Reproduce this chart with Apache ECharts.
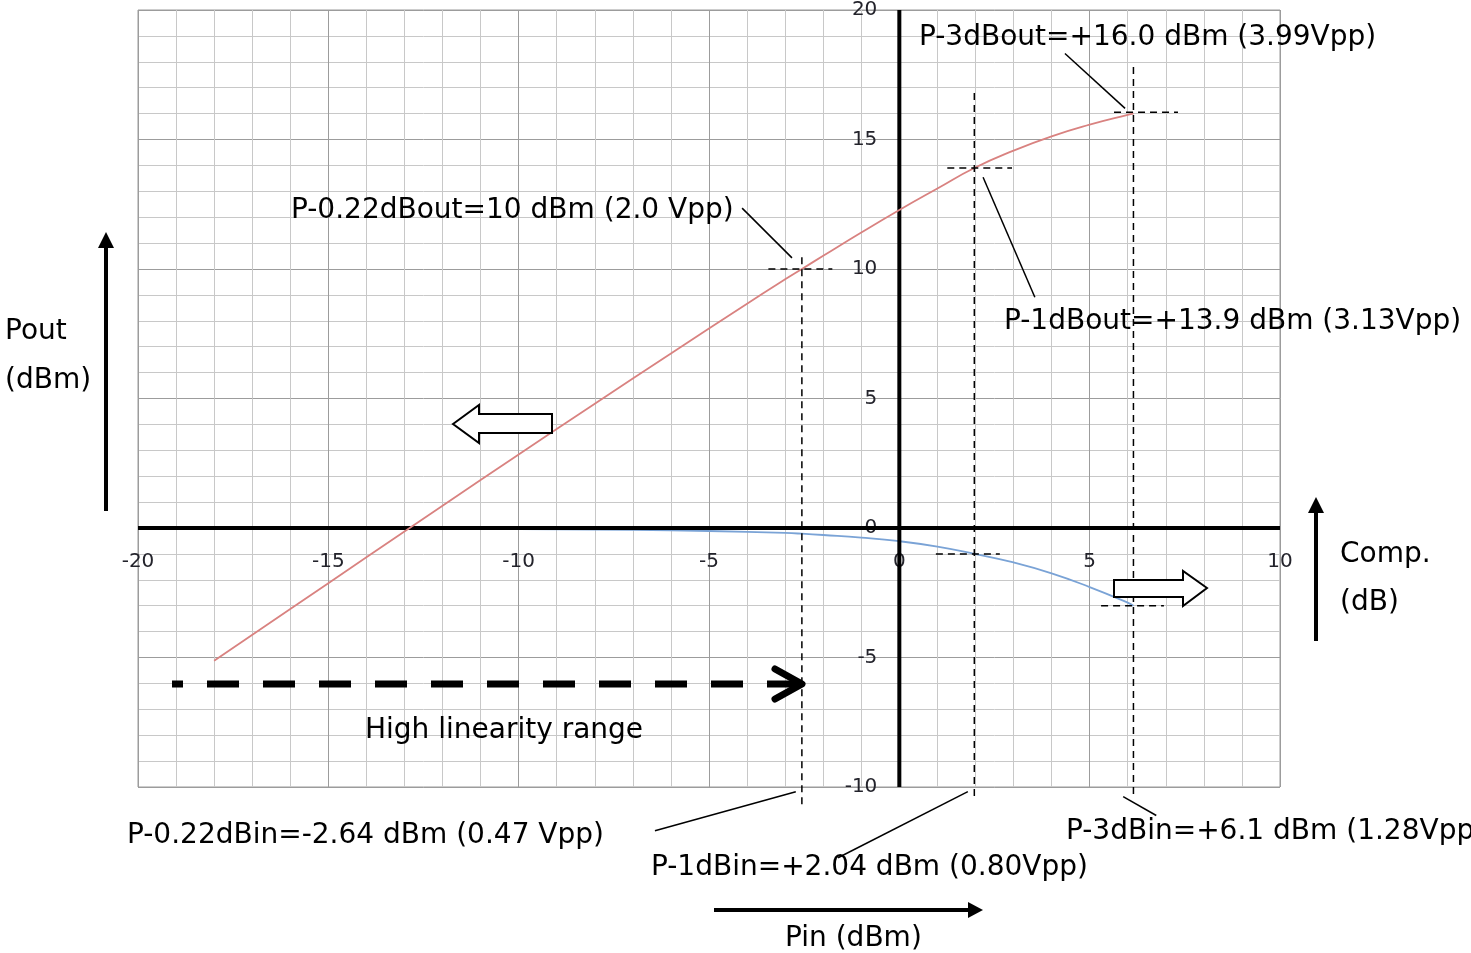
<!DOCTYPE html>
<html>
<head>
<meta charset="utf-8">
<script src="https://cdn.jsdelivr.net/npm/echarts@6/dist/echarts.min.js"></script>
<style>
html, body { margin: 0; padding: 0; background: #ffffff; }
#chart { width: 1471px; height: 953px; }
</style>
</head>
<body>
<div id="chart"></div>
<script>
// ---------- data ----------
const pinDbm  = [-18, -16, -14, -12, -10, -8, -6, -4, -3, -2.56, -2, -1, 0, 1, 1.97, 3, 4, 5, 6, 6.15];
const poutDbm = [-5.13, -3.13, -1.13, 0.86, 2.84, 4.80, 6.74, 8.66, 9.60, 10.0, 10.51, 11.41, 12.28, 13.11, 13.9, 14.57, 15.12, 15.57, 15.95, 16.0];
const compDb  = [-0.01, -0.01, -0.02, -0.03, -0.04, -0.06, -0.09, -0.15, -0.19, -0.22, -0.27, -0.37, -0.51, -0.72, -1.0, -1.33, -1.75, -2.28, -2.88, -3.0];

const xTickValues = [-20, -15, -10, -5, 0, 5, 10];
const yTickValues = [-10, -5, 0, 5, 10, 15, 20];

// key compression points as drawn: P-0.22dB, P-1dB, P-3dB
const keyPin  = [-2.56, 1.97, 6.15];
const keyPout = [10.0, 13.9, 16.05];
const keyComp = [-0.22, -1.0, -3.0];

const outLabels = ['P-0.22dBout=10 dBm (2.0 Vpp)', 'P-1dBout=+13.9 dBm (3.13Vpp)', 'P-3dBout=+16.0 dBm (3.99Vpp)'];
const inLabels  = ['P-0.22dBin=-2.64 dBm (0.47 Vpp)', 'P-1dBin=+2.04 dBm (0.80Vpp)', 'P-3dBin=+6.1 dBm (1.28Vpp)'];
const axisTexts = ['Pout', '(dBm)', 'Comp.', '(dB)', 'Pin (dBm)', 'High linearity range'];

// ---------- annotation geometry (data units) ----------
const vDashTop    = [10.45, 16.8, 17.8];
const vDashBottom = [-10.8, -10.5, -10.4];
const hOutLeft  = [0.88, 0.71, 0.51];
const hOutRight = [0.80, 0.99, 1.17];
const hCompLeft  = [null, 1.01, 0.85];
const hCompRight = [null, 0.67, 0.80];
const leaders = [
  [[-4.13, 12.35], [-2.82, 10.43]],
  [[2.20, 13.54], [3.56, 8.91]],
  [[4.35, 18.32], [5.93, 16.2]],
  [[-6.42, -11.69], [-2.72, -10.18]],
  [[-1.61, -12.73], [1.80, -10.18]],
  [[5.88, -10.37], [6.75, -11.1]]
];

const FONT = '"DejaVu Sans", Verdana, sans-serif';

// grid layout
const GRID = { left: 138, top: 9, width: 1142, height: 778 };
const xRange = xTickValues[xTickValues.length - 1] - xTickValues[0];
const yRange = yTickValues[yTickValues.length - 1] - yTickValues[0];
// shift the axes (and their labels) so they cross at the origin
const xAxisOffset = -(GRID.height * (0 - yTickValues[0]) / yRange);
const yAxisOffset = -(GRID.width * (0 - xTickValues[0]) / xRange);

function lineEl(api, a, b, style) {
  const p1 = api.coord(a), p2 = api.coord(b);
  return { type: 'line', shape: { x1: p1[0], y1: p1[1], x2: p2[0], y2: p2[1] }, style: style };
}

function renderAnnotations(params, api) {
  const dashed = { stroke: '#000', lineWidth: 1.5, lineDash: [7, 5], fill: null };
  const solid = { stroke: '#000', lineWidth: 1.5, fill: null };
  const children = [];
  for (let i = 0; i < keyPin.length; i++) {
    children.push(lineEl(api, [keyPin[i], vDashTop[i]], [keyPin[i], vDashBottom[i]], dashed));
    children.push(lineEl(api, [keyPin[i] - hOutLeft[i], keyPout[i]], [keyPin[i] + hOutRight[i], keyPout[i]], dashed));
    if (hCompLeft[i] !== null) {
      children.push(lineEl(api, [keyPin[i] - hCompLeft[i], keyComp[i]], [keyPin[i] + hCompRight[i], keyComp[i]], dashed));
    }
  }
  leaders.forEach(function (l) { children.push(lineEl(api, l[0], l[1], solid)); });
  return { type: 'group', children: children };
}

function renderAxes(params, api) {
  const st = { stroke: '#000', lineWidth: 4, fill: null };
  return { type: 'group', children: [
    lineEl(api, [xTickValues[0], 0], [xTickValues[xTickValues.length - 1], 0], st),
    lineEl(api, [0, yTickValues[0]], [0, yTickValues[yTickValues.length - 1]], st)
  ]};
}

function txt(x, y, s) {
  return { type: 'text', x: x, y: y, z: 100,
    style: { text: s, font: '28px ' + FONT, fill: '#000', textAlign: 'left', textVerticalAlign: 'middle', align: 'left', verticalAlign: 'middle' } };
}

const chart = echarts.init(document.getElementById('chart'), null, { renderer: 'canvas' });

const axisLabelStyle = { fontSize: 20, fontFamily: FONT, color: '#23232b' };

const option = {
  animation: false,
  backgroundColor: '#ffffff',
  grid: { left: GRID.left, top: GRID.top, width: GRID.width, height: GRID.height, containLabel: false, show: true, borderColor: '#9a9a9a', borderWidth: 1, backgroundColor: 'transparent' },
  xAxis: {
    type: 'value', position: 'bottom', offset: xAxisOffset,
    min: xTickValues[0], max: xTickValues[xTickValues.length - 1], interval: 5,
    axisLine: { show: false, onZero: false },
    axisTick: { show: false },
    axisLabel: Object.assign({ margin: 24, showMinLabel: true, showMaxLabel: true }, axisLabelStyle),
    splitLine: { show: true, lineStyle: { color: '#9c9c9c', width: 1 } },
    minorTick: { show: false, splitNumber: 5 },
    minorSplitLine: { show: true, lineStyle: { color: '#c8c8c8', width: 1 } }
  },
  yAxis: {
    type: 'value', position: 'left', offset: yAxisOffset,
    min: yTickValues[0], max: yTickValues[yTickValues.length - 1], interval: 5,
    axisLine: { show: false, onZero: false },
    axisTick: { show: false },
    axisLabel: Object.assign({ margin: 22, showMinLabel: true, showMaxLabel: true }, axisLabelStyle),
    splitLine: { show: true, lineStyle: { color: '#9c9c9c', width: 1 } },
    minorTick: { show: false, splitNumber: 5 },
    minorSplitLine: { show: true, lineStyle: { color: '#c8c8c8', width: 1 } }
  },
  series: [
    {
      name: 'Comp', type: 'line', z: 2, smooth: 0.5, showSymbol: false, symbol: 'none',
      data: pinDbm.map(function (p, i) { return [p, compDb[i]]; }),
      lineStyle: { color: '#7aa3d6', width: 1.8 }
    },
    {
      name: 'Axes', type: 'custom', z: 3, renderItem: renderAxes, data: [[0, 0]], silent: true
    },
    {
      name: 'Pout', type: 'line', z: 4, smooth: 0.5, showSymbol: false, symbol: 'none',
      data: pinDbm.map(function (p, i) { return [p, poutDbm[i]]; }),
      lineStyle: { color: '#d98280', width: 1.8 }
    },
    {
      name: 'Annotations', type: 'custom', z: 5, renderItem: renderAnnotations, data: [[0, 0]], silent: true, clip: false
    }
  ],
  graphic: [
    txt(291, 211, outLabels[0]),
    txt(1004, 322, outLabels[1]),
    txt(919, 38, outLabels[2]),
    txt(127, 836, inLabels[0]),
    txt(651, 868, inLabels[1]),
    txt(1066, 832, inLabels[2]),
    txt(5, 332, axisTexts[0]),
    txt(5, 381, axisTexts[1]),
    txt(1340, 555, axisTexts[2]),
    txt(1340, 603, axisTexts[3]),
    txt(785, 939, axisTexts[4]),
    txt(365, 731, axisTexts[5]),
    // Pout vertical arrow
    { type: 'line', z: 100, shape: { x1: 106, y1: 511, x2: 106, y2: 246 }, style: { stroke: '#000', lineWidth: 4 } },
    { type: 'polygon', z: 100, shape: { points: [[106, 232], [98, 248], [114, 248]] }, style: { fill: '#000' } },
    // Comp vertical arrow
    { type: 'line', z: 100, shape: { x1: 1316, y1: 641, x2: 1316, y2: 511 }, style: { stroke: '#000', lineWidth: 4 } },
    { type: 'polygon', z: 100, shape: { points: [[1316, 497], [1308, 513], [1324, 513]] }, style: { fill: '#000' } },
    // Pin horizontal arrow
    { type: 'line', z: 100, shape: { x1: 714, y1: 910, x2: 970, y2: 910 }, style: { stroke: '#000', lineWidth: 4 } },
    { type: 'polygon', z: 100, shape: { points: [[983, 910], [968, 902], [968, 918]] }, style: { fill: '#000' } },
    // block arrows
    { type: 'polygon', z: 100, shape: { points: [[453, 424], [479, 405], [479, 414], [552, 414], [552, 433], [479, 433], [479, 443]] }, style: { fill: '#fff', stroke: '#000', lineWidth: 2 } },
    { type: 'polygon', z: 100, shape: { points: [[1207, 588], [1183, 571], [1183, 580], [1114, 580], [1114, 597], [1183, 597], [1183, 606]] }, style: { fill: '#fff', stroke: '#000', lineWidth: 2 } },
    // high linearity dashed arrow
    { type: 'line', z: 100, shape: { x1: 172, y1: 684, x2: 800, y2: 684 }, style: { stroke: '#000', lineWidth: 7, lineDash: [32, 24], lineDashOffset: 21 } },
    { type: 'polyline', z: 100, shape: { points: [[775, 669], [802, 684], [775, 699]] }, style: { stroke: '#000', lineWidth: 7, lineCap: 'round', lineJoin: 'round', fill: null } }
  ]
};

chart.setOption(option);
</script>
</body>
</html>
